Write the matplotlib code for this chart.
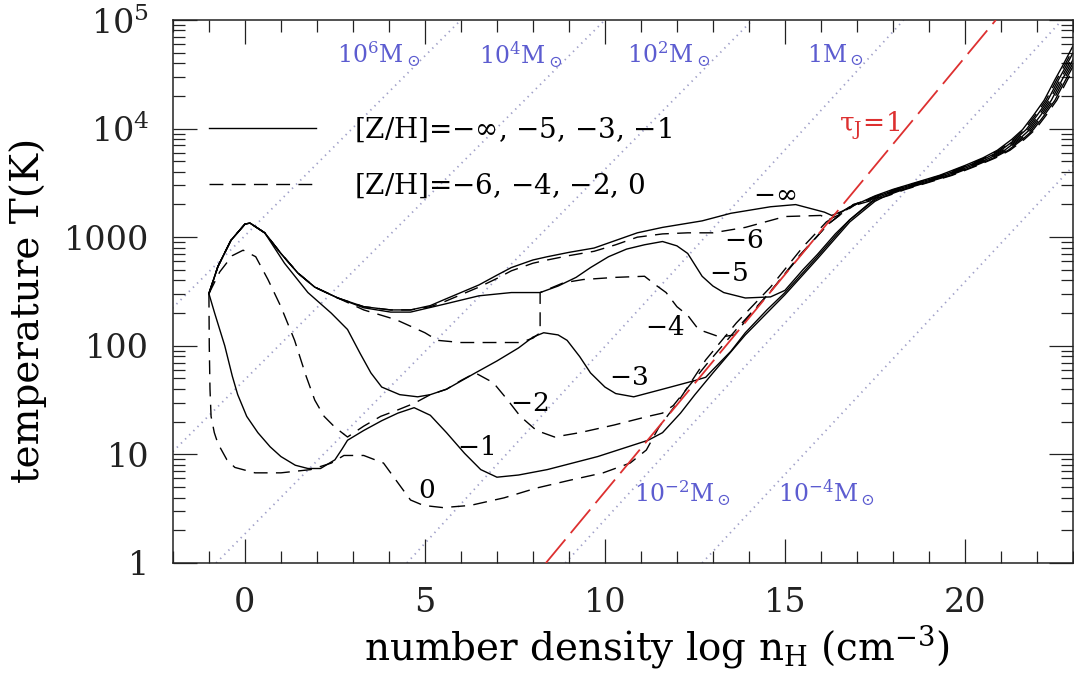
import numpy as np
import matplotlib
matplotlib.use("Agg")
import matplotlib.pyplot as plt
from matplotlib.ticker import FixedLocator, FixedFormatter, MultipleLocator, LogLocator, NullFormatter
from matplotlib.lines import Line2D

plt.rcParams.update({
    "font.family": "serif",
    "font.serif": ["DejaVu Serif"],
    "mathtext.fontset": "dejavuserif",
    "lines.scale_dashes": False,
})

# thermal tracks: log n_H vs log T for each metallicity
logn_minf = [-1.0, -0.75, -0.39, 0.0, 0.14, 0.55, 1.0, 1.47, 1.94, 2.58, 3.3, 4.05, 4.6, 5.15, 5.5, 6.0, 6.5, 7.0,
             7.4, 8.0, 8.4, 9.0, 9.7, 10.3, 10.9, 11.6, 12.7, 13.5, 14.6, 15.3, 16.1, 16.3, 16.6, 16.9]
logT_minf = [2.48, 2.73, 2.97, 3.12, 3.13, 3.04, 2.85, 2.67, 2.54, 2.44, 2.36, 2.33, 2.33, 2.37, 2.42, 2.49, 2.56, 2.65,
             2.72, 2.79, 2.82, 2.86, 2.90, 2.97, 3.04, 3.09, 3.15, 3.22, 3.28, 3.30, 3.23, 3.20, 3.24, 3.29]

logn_m6 = [-1.0, -0.75, -0.39, 0.0, 0.14, 0.55, 1.0, 1.47, 1.94, 2.58, 3.3, 4.05, 4.6, 5.15, 5.5, 6.0, 6.5, 7.0,
           7.4, 8.0, 8.4, 9.0, 9.7, 10.3, 10.9, 11.6, 12.3, 13.0, 13.9, 15.0, 16.0, 16.2, 16.6, 17.0]
logT_m6 = [2.48, 2.73, 2.97, 3.12, 3.13, 3.04, 2.85, 2.67, 2.54, 2.44, 2.36, 2.33, 2.33, 2.36, 2.40, 2.47, 2.54, 2.62,
           2.69, 2.76, 2.79, 2.83, 2.87, 2.93, 3.00, 3.03, 3.04, 3.04, 3.09, 3.19, 3.20, 3.16, 3.22, 3.31]

logn_m5 = [-1.0, -0.75, -0.39, 0.0, 0.14, 0.55, 1.0, 1.47, 1.94, 2.58, 3.3, 4.05, 4.6, 5.5, 6.5, 7.4, 8.2, 8.7,
           9.2, 9.6, 10.1, 10.6, 11.1, 11.6, 12.0, 12.3, 12.7, 13.0, 13.3, 13.9, 14.6, 15.0, 15.5, 15.9, 16.4,
           16.8, 17.3]
logT_m5 = [2.48, 2.73, 2.97, 3.12, 3.13, 3.04, 2.85, 2.67, 2.54, 2.44, 2.35, 2.31, 2.31, 2.38, 2.46, 2.49, 2.49, 2.55,
           2.63, 2.72, 2.82, 2.89, 2.93, 2.96, 2.92, 2.85, 2.64, 2.55, 2.49, 2.44, 2.45, 2.51, 2.70, 2.84, 3.03,
           3.16, 3.30]

logn_m4 = [-1.0, -0.75, -0.39, 0.0, 0.14, 0.55, 1.0, 1.47, 1.94, 2.58, 3.3, 4.2, 5.0, 5.35, 6.0, 7.0, 7.65, 8.0,
           8.2, 8.2, 8.85, 9.4, 10.3, 11.1, 11.45, 11.7, 12.0, 12.3, 12.6, 13.2, 13.6, 14.0, 14.6, 15.4, 16.2, 16.9]
logT_m4 = [2.48, 2.73, 2.97, 3.12, 3.13, 3.04, 2.85, 2.67, 2.54, 2.44, 2.33, 2.24, 2.12, 2.05, 2.03, 2.03, 2.03, 2.07,
           2.12, 2.49, 2.58, 2.61, 2.63, 2.64, 2.55, 2.49, 2.36, 2.28, 2.15, 2.08, 2.10, 2.27, 2.50, 2.83, 3.12, 3.30]

logn_m3 = [-1.0, -0.75, -0.39, 0.0, 0.14, 0.55, 1.1, 1.75, 2.4, 2.85, 3.2, 3.5, 3.8, 4.3, 4.8, 5.15, 5.6, 6.4,
           7.0, 7.6, 8.0, 8.3, 8.7, 8.95, 9.3, 9.6, 10.0, 10.3, 10.8, 11.6, 12.5, 12.8, 13.0, 13.5, 13.9, 14.5,
           15.0, 15.9, 16.8, 17.4]
logT_m3 = [2.48, 2.73, 2.97, 3.12, 3.13, 3.04, 2.76, 2.49, 2.30, 2.15, 1.93, 1.75, 1.62, 1.55, 1.53, 1.55, 1.60, 1.75,
           1.86, 1.98, 2.08, 2.12, 2.10, 2.05, 1.90, 1.75, 1.62, 1.56, 1.53, 1.60, 1.68, 1.71, 1.78, 1.95, 2.12, 2.33,
           2.49, 2.82, 3.16, 3.32]

logn_m2 = [-1.0, -0.7, -0.35, -0.05, 0.3, 0.64, 1.0, 1.38, 1.7, 1.94, 2.2, 2.5, 2.85, 3.3, 3.77, 4.25, 4.7, 5.15,
           5.6, 6.0, 6.4, 6.9, 7.3, 7.65, 8.1, 8.6, 9.3, 10.25, 11.2, 11.6, 11.9, 12.8, 13.7, 14.6, 15.5, 16.2, 16.9]
logT_m2 = [2.48, 2.68, 2.83, 2.88, 2.82, 2.61, 2.36, 2.05, 1.72, 1.50, 1.35, 1.25, 1.16, 1.26, 1.35, 1.41, 1.47, 1.55,
           1.60, 1.68, 1.75, 1.66, 1.50, 1.35, 1.22, 1.16, 1.20, 1.27, 1.35, 1.38, 1.45, 1.82, 2.17, 2.50, 2.86, 3.12,
           3.30]

logn_m1 = [-1.0, -0.84, -0.56, -0.35, -0.2, 0.05, 0.36, 0.7, 1.0, 1.4, 1.75, 2.1, 2.5, 2.7, 2.85, 3.3, 3.8, 4.25,
           4.7, 5.15, 5.6, 6.1, 6.55, 7.0, 7.6, 8.4, 9.8, 11.2, 11.6, 12.1, 12.5, 13.0, 13.9, 15.0, 15.9, 16.8, 17.5]
logT_m1 = [2.48, 2.30, 2.00, 1.72, 1.55, 1.35, 1.20, 1.07, 0.98, 0.90, 0.87, 0.87, 0.95, 1.05, 1.13, 1.22, 1.31, 1.38,
           1.43, 1.36, 1.20, 1.01, 0.86, 0.79, 0.81, 0.86, 0.98, 1.13, 1.20, 1.38, 1.55, 1.75, 2.10, 2.47, 2.80, 3.14,
           3.33]

logn_0 = [-1.0, -0.99, -0.97, -0.94, -0.85, -0.75, -0.5, -0.28, 0.28, 1.0, 1.83, 2.4, 2.75, 3.3, 3.85, 4.4, 4.6,
          4.96, 5.5, 6.26, 7.2, 8.1, 9.0, 9.95, 10.7, 11.15, 11.5, 12.0, 12.8, 13.65, 14.6, 15.5, 16.15, 16.8]
logT_0 = [2.48, 2.00, 1.60, 1.35, 1.20, 1.10, 0.95, 0.88, 0.83, 0.83, 0.86, 0.92, 0.99, 0.99, 0.92, 0.67, 0.58,
          0.53, 0.51, 0.53, 0.60, 0.69, 0.76, 0.83, 0.92, 1.04, 1.25, 1.47, 1.87, 2.21, 2.54, 2.91, 3.14, 3.28]

# common high-density track; each curve sits slightly to the right of the previous one
tail_logn = [17.5, 18.0, 18.6, 19.3, 20.0, 20.5, 20.9, 21.3, 21.6, 21.9, 22.2, 22.5, 22.7, 23.0]
tail_logT = [3.38, 3.44, 3.50, 3.57, 3.66, 3.73, 3.80, 3.90, 3.99, 4.12, 4.26, 4.45, 4.57, 4.76]
tail_shift = [0.0, 0.05, 0.1, 0.15, 0.2, 0.25, 0.3, 0.35]

tracks = [(logn_minf, logT_minf), (logn_m6, logT_m6), (logn_m5, logT_m5), (logn_m4, logT_m4),
          (logn_m3, logT_m3), (logn_m2, logT_m2), (logn_m1, logT_m1), (logn_0, logT_0)]
track_dashed = [False, True, False, True, False, True, False, True]

track_labels = [r"$-\infty$", r"$-6$", r"$-5$", r"$-4$", r"$-3$", r"$-2$", r"$-1$", r"$0$"]
label_logn = [14.1, 13.3, 12.9, 11.1, 10.1, 7.35, 5.9, 4.8]
label_logT = [3.40, 2.97, 2.67, 2.17, 1.71, 1.47, 1.06, 0.67]

# Jeans mass lines: log n_H where each crosses T=1 K and T=1e5 K
jeans_names = [r"$10^6\mathrm{M}_\odot$", r"$10^4\mathrm{M}_\odot$", r"$10^2\mathrm{M}_\odot$",
               r"$1\mathrm{M}_\odot$", r"$10^{-2}\mathrm{M}_\odot$", r"$10^{-4}\mathrm{M}_\odot$"]
jeans_logn_lo = [-9.1, -5.1, -0.8, 4.5, 8.9, 12.7]
jeans_logn_hi = [6.0, 10.0, 14.1, 18.3, 22.7, 26.8]
jeans_text_logn = [2.55, 6.5, 10.6, 15.6, 10.8, 14.8]
jeans_text_T = [4.8e4, 4.8e4, 4.8e4, 4.8e4, 4.4, 4.4]

# tau_J = 1 line
tauJ_logn = [8.36, 20.86]
tauJ_T = [1.0, 1.0e5]

blue_line = "#a0a0c8"
blue_text = "#5c5cd0"
red = "#dd3030"

fig = plt.figure(figsize=(10.74, 6.88), dpi=100)
ax = fig.add_axes([0.161, 0.1817, 0.838, 0.7893])

for lo, hi in zip(jeans_logn_lo, jeans_logn_hi):
    ax.plot([lo, hi], [1.0, 1.0e5], color=blue_line, lw=1.3, dashes=(1.0, 3.2), zorder=1)
for name, xn, yt in zip(jeans_names, jeans_text_logn, jeans_text_T):
    ax.text(xn, yt, name, color=blue_text, fontsize=17, ha="left", va="center")

ax.plot(tauJ_logn, tauJ_T, color=red, lw=1.3, dashes=(22, 6), zorder=3)
ax.text(16.5, 1.07e4, r"$\mathrm{\tau_J}\!=\!1$", color=red, fontsize=19, ha="left", va="center")

for (xs, ys), dashed, s in zip(tracks, track_dashed, tail_shift):
    x = np.concatenate([xs, np.array(tail_logn) + s])
    y = 10 ** np.concatenate([ys, tail_logT])
    if dashed:
        ax.plot(x, y, color="black", lw=1.0, dashes=(10, 6), zorder=2)
    else:
        ax.plot(x, y, color="black", lw=1.0, zorder=2)

for lab, xn, lt in zip(track_labels, label_logn, label_logT):
    ax.text(xn, 10 ** lt, lab, fontsize=19, ha="left", va="center")

handles = [Line2D([], [], color="black", lw=1.0),
           Line2D([], [], color="black", lw=1.0, dashes=(10, 6))]
ax.legend(handles, [r"[Z/H]=$-\infty$, $-5$, $-3$, $-1$", r"[Z/H]=$-6$, $-4$, $-2$, $0$"],
          loc="upper left", bbox_to_anchor=(0.028, 0.845), frameon=False, fontsize=20,
          handlelength=3.85, handletextpad=1.35, labelspacing=1.0, borderaxespad=0)

ax.set_xlim(-2, 23)
ax.set_yscale("log")
ax.set_ylim(1, 1e5)

ax.xaxis.set_major_locator(FixedLocator([0, 5, 10, 15, 20]))
ax.xaxis.set_major_formatter(FixedFormatter(["0", "5", "10", "15", "20"]))
ax.xaxis.set_minor_locator(MultipleLocator(1))
ax.yaxis.set_major_locator(FixedLocator([1, 10, 100, 1000, 1e4, 1e5]))
ax.yaxis.set_major_formatter(FixedFormatter(["1", "10", "100", "1000", r"$10^4$", r"$10^5$"]))
ax.yaxis.set_minor_locator(LogLocator(base=10, subs=range(2, 10)))
ax.yaxis.set_minor_formatter(NullFormatter())

ax.tick_params(which="both", direction="in", top=True, right=True, width=0.9, colors="#222222")
ax.tick_params(which="major", length=17, labelsize=24, pad=17)
ax.tick_params(which="minor", length=8.5)
for sp in ax.spines.values():
    sp.set_linewidth(1.1)
    sp.set_color("#222222")

ax.set_xlabel(r"number density log n$_\mathrm{H}$ (cm$^{-3}$)", fontsize=28)
ax.set_ylabel("temperature T(K)", fontsize=28)
ax.xaxis.set_label_coords(0.538, -0.11)
ax.yaxis.set_label_coords(-0.14, 0.466)

fig.savefig("out.png", dpi=100)
